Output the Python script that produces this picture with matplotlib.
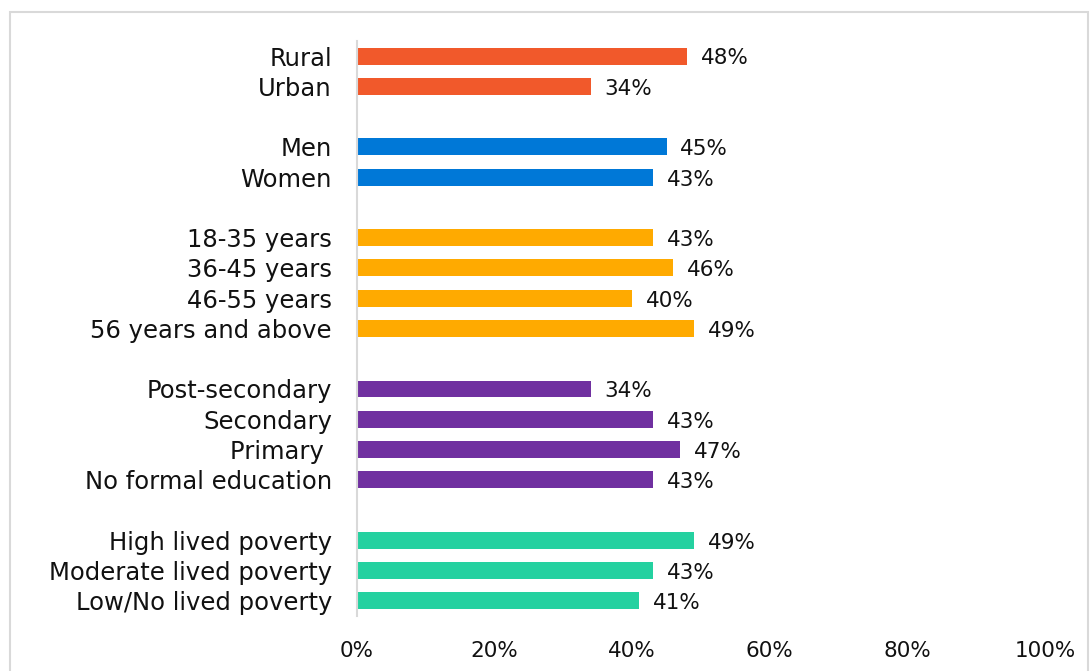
import numpy as np
import matplotlib
matplotlib.use("Agg")
import matplotlib.pyplot as plt
from matplotlib.patches import Rectangle

# groups of categories (top to bottom) and their values in %
groups = [
    ["Rural", "Urban"],
    ["Men", "Women"],
    ["18-35 years", "36-45 years", "46-55 years", "56 years and above"],
    ["Post-secondary", "Secondary", "Primary ", "No formal education"],
    ["High lived poverty", "Moderate lived poverty", "Low/No lived poverty"],
]
values = [
    [48, 34],
    [45, 43],
    [43, 46, 40, 49],
    [34, 43, 47, 43],
    [49, 43, 41],
]
colors = ["#F1592B", "#0078D7", "#FFAA00", "#7030A0", "#24D1A0"]
xticks = [0, 20, 40, 60, 80, 100]

plt.rcParams['font.family'] = ['DejaVu Sans']

fig = plt.figure(figsize=(10.9, 6.71), dpi=100)
ax = fig.add_axes([0.3275, 0.082, 0.6312, 0.857])

# one empty slot between groups
pos, labels = [], []
y = 0
for gi, (cats, vals) in enumerate(zip(groups, values)):
    ys = np.arange(y, y + len(cats))
    ax.barh(ys, vals, height=0.56, color=colors[gi])
    for yy, v in zip(ys, vals):
        ax.text(v + 2.0, yy + 0.08, f"{v}%", va="center", ha="left",
                fontsize=15.5, color="#111111")
    pos.extend(ys)
    labels.extend(cats)
    y += len(cats) + 1

ax.set_ylim(y - 1.5, -0.5)
ax.set_xlim(0, 100)
ax.set_yticks(pos)
ax.set_yticklabels(labels, fontsize=17.5, color="#111111")
ax.set_xticks(xticks)
ax.set_xticklabels([f"{t}%" for t in xticks], fontsize=15.5, color="#111111")
ax.tick_params(axis="both", length=0)
ax.tick_params(axis="y", pad=18)
ax.tick_params(axis="x", pad=18)

for s in ["top", "right", "bottom"]:
    ax.spines[s].set_visible(False)
ax.spines["left"].set_color("#D9D9D9")
ax.spines["left"].set_linewidth(1.5)

# outer chart border
fig.patches.append(Rectangle((10 / 1090, -0.01), 1078 / 1090, 1 - 12 / 671 + 0.01,
                             transform=fig.transFigure, fill=False,
                             edgecolor="#D9D9D9", linewidth=1.5))

fig.savefig("out.png", dpi=100)
